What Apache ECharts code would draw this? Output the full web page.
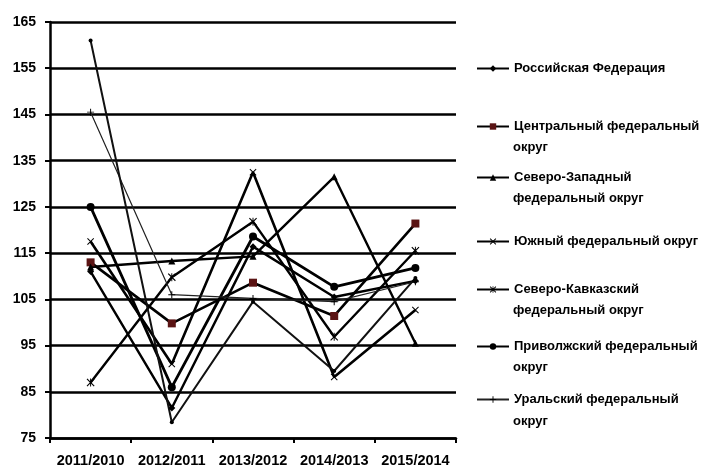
<!DOCTYPE html>
<html>
<head>
<meta charset="utf-8">
<script src="https://cdn.jsdelivr.net/npm/echarts@6/dist/echarts.min.js"></script>
<style>html,body{margin:0;padding:0;background:#fff}#c{width:710px;height:470px}</style>
</head>
<body>
<div id="c"></div>
<script>
const categories = ['2011/2010', '2012/2011', '2013/2012', '2014/2013', '2015/2014'];
const yTicks = [75, 85, 95, 105, 115, 125, 135, 145, 155, 165];

const seriesNames = [
  'Российская Федерация',
  'Центральный федеральный округ',
  'Северо-Западный федеральный округ',
  'Южный федеральный округ',
  'Северо-Кавказский федеральный округ',
  'Приволжский федеральный округ',
  'Уральский федеральный округ',
  'Дальневосточный федеральный округ'
];
const legendLine1 = ['Российская Федерация', 'Центральный федеральный', 'Северо-Западный', 'Южный федеральный округ', 'Северо-Кавказский', 'Приволжский федеральный', 'Уральский федеральный'];
const legendLine2 = ['', 'округ', 'федеральный округ', '', 'федеральный округ', 'округ', 'округ'];

const rf      = [111, 81.5, 116.4, 105.5, 109];
const central = [113, 99.8, 108.6, 101.4, 121.4];
const nw      = [112, 113.3, 114.3, 131.5, 95.5];
const south   = [117.5, 91, 132.5, 88.2, 102.7];
const ncauc   = [87, 109.8, 121.8, 96.9, 115.5];
const volga   = [125, 86, 118.6, 107.7, 111.8];
const ural    = [145.5, 106, 105.2, 104.5, 108.8];
const fareast = [161, 78.4, 104.5, 89.5, 109.6];

const values = [rf, central, nw, south, ncauc, volga, ural, fareast];

const FONT = '"Liberation Sans", Arial, sans-serif';
const X_PATH = 'path://M0,1L1,0L5,4L9,0L10,1L6,5L10,9L9,10L5,6L1,10L0,9L4,5Z';
const STAR_PATH = 'path://M0,1L1,0L4.4,3.4L4.4,0L5.6,0L5.6,3.4L9,0L10,1L6,5L10,9L9,10L5.6,6.6L5.6,10L4.4,10L4.4,6.6L1,10L0,9L4,5Z';
const PLUS_PATH = 'path://M4.3,0H5.7V4.3H10V5.7H5.7V10H4.3V5.7H0V4.3H4.3Z';

const styles = [
  {symbol: 'diamond', size: 7, width: 2.4, color: '#000', mcolor: '#000'},
  {symbol: 'rect', size: 8, width: 2.6, color: '#000', mcolor: '#5a1414'},
  {symbol: 'triangle', size: 7, width: 2.4, color: '#000', mcolor: '#000'},
  {symbol: X_PATH, size: 7, width: 2.6, color: '#000', mcolor: '#000'},
  {symbol: STAR_PATH, size: 8, width: 2.4, color: '#000', mcolor: '#000'},
  {symbol: 'circle', size: 8, width: 2.8, color: '#000', mcolor: '#000'},
  {symbol: PLUS_PATH, size: 7, width: 1.2, color: '#222', mcolor: '#000'},
  {symbol: 'circle', size: 4, width: 2, color: '#111', mcolor: '#000'}
];

const series = values.map((v, i) => ({
  name: seriesNames[i],
  type: 'line',
  data: v,
  symbol: styles[i].symbol,
  symbolSize: styles[i].size,
  showSymbol: true,
  animation: false,
  lineStyle: {color: styles[i].color, width: styles[i].width},
  itemStyle: {color: styles[i].mcolor, borderWidth: 0},
  z: 3
}));

const legendTops = [67, 125, 176, 240, 288, 345, 398];
const line2Tops = [0, 146, 197, 0, 309, 366, 420];

const legends = legendLine1.map((t, i) => ({
  data: [seriesNames[i]],
  left: 476,
  top: legendTops[i] - 5,
  padding: 0,
  itemWidth: 32,
  itemHeight: 8,
  itemGap: 0,
  selectedMode: false,
  formatter: () => legendLine1[i],
  textStyle: {fontFamily: FONT, fontSize: 13, fontWeight: 'bold', color: '#000'}
}));

const graphics = [];
legendLine2.forEach((t, i) => {
  if (t) {
    graphics.push({
      type: 'text', left: 513, top: line2Tops[i] - 5,
      style: {text: t, font: 'bold 13px ' + FONT, fill: '#000'}
    });
  }
});

const chart = echarts.init(document.getElementById('c'), null, {renderer: 'canvas'});
chart.setOption({
  backgroundColor: '#fff',
  animation: false,
  grid: {left: 50, right: 254, top: 22, bottom: 32, containLabel: false, outerBoundsMode: 'none'},
  legend: legends,
  graphic: graphics,
  xAxis: {
    type: 'category',
    data: categories,
    boundaryGap: true,
    axisLine: {lineStyle: {color: '#000', width: 2.5}},
    axisTick: {show: true, inside: false, length: 5, interval: 0, lineStyle: {color: '#000', width: 2}},
    axisLabel: {interval: 0, hideOverlap: false, fontFamily: FONT, fontSize: 14.5, fontWeight: 'bold', color: '#000', margin: 15}
  },
  yAxis: {
    type: 'value',
    min: yTicks[0],
    max: yTicks[yTicks.length - 1],
    interval: 10,
    axisLine: {show: true, lineStyle: {color: '#000', width: 2.5}},
    axisTick: {show: true, length: 5, lineStyle: {color: '#000', width: 2}},
    splitLine: {show: true, lineStyle: {color: '#000', width: 2.6}},
    axisLabel: {fontFamily: FONT, fontSize: 14, fontWeight: 'bold', color: '#000', margin: 14}
  },
  series: series
});
</script>
</body>
</html>
